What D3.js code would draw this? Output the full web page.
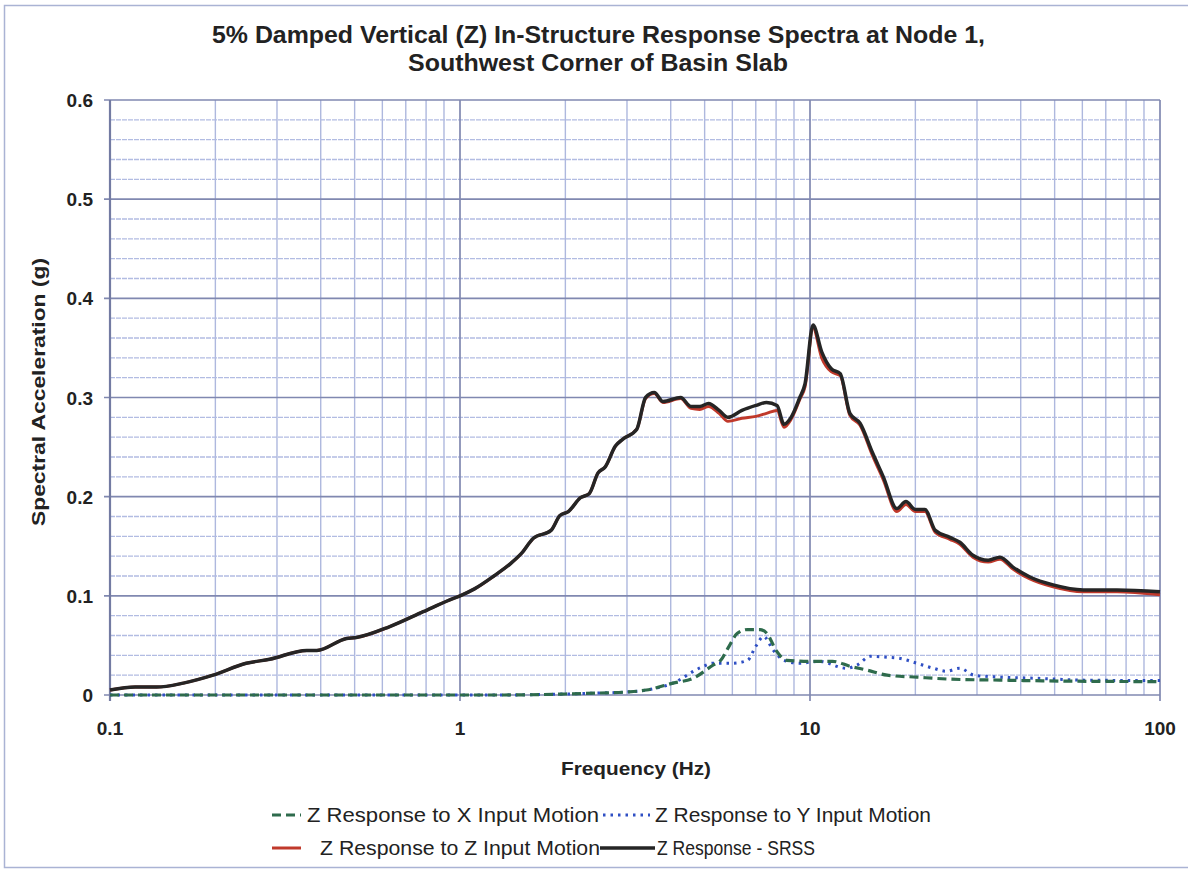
<!DOCTYPE html>
<html>
<head>
<meta charset="utf-8">
<script src="https://cdn.jsdelivr.net/npm/d3@7"></script>
<style>
  body { margin: 0; background: #fff; }
  svg text { font-family: "Liberation Sans", Arial, sans-serif; fill: #222; }
</style>
</head>
<body>
<svg id="chart" width="1188" height="870"></svg>
<script>
// frequencies (Hz) and spectral accelerations (g)
const freqSRSS = [0.1, 0.118, 0.136, 0.162, 0.197, 0.245, 0.286, 0.365, 0.39, 0.474, 0.506, 0.63, 0.785, 0.935, 1.0,
  1.1, 1.25, 1.4, 1.5, 1.62, 1.82, 1.93, 2.04, 2.21, 2.34, 2.48, 2.6, 2.78, 2.92, 3.2, 3.39, 3.59, 3.8, 4.27, 4.57,
  4.84, 5.13, 5.5, 5.83, 6.39, 7.01, 7.51, 8.05, 8.43, 8.83, 9.35, 9.68, 10.2, 10.8, 11.5, 12.2, 13.0, 13.9, 15.1, 16.2,
  17.7, 18.8, 20.0, 21.3, 22.8, 25.1, 26.8, 29.2, 32.3, 34.9, 38.0, 42.5, 49.5, 60.3, 75.4, 100];
const srss = [0.005, 0.008, 0.008, 0.012, 0.020, 0.032, 0.036, 0.045, 0.045, 0.057, 0.058, 0.069, 0.084, 0.096, 0.100,
  0.107, 0.120, 0.133, 0.143, 0.158, 0.166, 0.181, 0.185, 0.199, 0.203, 0.224, 0.230, 0.251, 0.258, 0.268, 0.300, 0.305, 0.296, 0.300, 0.291,
  0.291, 0.294, 0.287, 0.280, 0.287, 0.292, 0.295, 0.292, 0.273, 0.280, 0.300, 0.314, 0.373, 0.346, 0.329, 0.324, 0.284, 0.274, 0.244, 0.220,
  0.188, 0.195, 0.187, 0.187, 0.166, 0.159, 0.154, 0.141, 0.136, 0.139, 0.129, 0.119, 0.111, 0.106, 0.106, 0.104];
const zIn = [0.005, 0.008, 0.008, 0.012, 0.020, 0.032, 0.036, 0.045, 0.045, 0.057, 0.058, 0.069, 0.084, 0.096, 0.100,
  0.107, 0.120, 0.133, 0.143, 0.158, 0.166, 0.181, 0.185, 0.199, 0.203, 0.224, 0.230, 0.251, 0.258, 0.268, 0.299, 0.304, 0.295, 0.299, 0.289,
  0.288, 0.291, 0.284, 0.276, 0.279, 0.281, 0.284, 0.287, 0.270, 0.278, 0.298, 0.311, 0.370, 0.340, 0.326, 0.322, 0.282, 0.272, 0.241, 0.217,
  0.185, 0.192, 0.185, 0.185, 0.164, 0.157, 0.152, 0.139, 0.134, 0.137, 0.127, 0.117, 0.109, 0.104, 0.104, 0.101];

const freqX = [0.1, 0.3, 0.6, 1.0, 1.3, 2.0, 2.5, 2.99, 3.41, 4.06, 4.64, 5.28, 5.56, 5.87, 6.19,
  6.63, 7.2, 7.54, 8.0, 8.59, 10.0, 11.6, 13.0, 14.6, 16.6, 20.2, 25.1, 34.9, 54, 100];
const xIn = [0, 0, 0, 0, 0, 0.001, 0.002, 0.003, 0.005, 0.012, 0.017, 0.030, 0.035, 0.049, 0.062,
  0.066, 0.066, 0.062, 0.045, 0.035, 0.034, 0.034, 0.029, 0.025, 0.020, 0.018, 0.016, 0.015, 0.014, 0.0135];

const freqY = [0.1, 0.3, 0.6, 1.0, 1.3, 2.0, 2.5, 3.0, 3.41, 4.06, 4.83, 5.28, 6.0, 6.63, 7.0, 7.37, 7.86,
  8.42, 9.35, 10.6, 12.7, 13.6, 14.9, 16.6, 18.0, 20.2, 22.5, 24.5, 26.8, 29.4, 34.9, 43.4, 60.5, 100];
const yIn = [0, 0, 0, 0, 0, 0.001, 0.002, 0.003, 0.005, 0.012, 0.027, 0.032, 0.032, 0.035, 0.049, 0.059, 0.045,
  0.035, 0.032, 0.034, 0.027, 0.030, 0.039, 0.038, 0.037, 0.032, 0.027, 0.024, 0.027, 0.020, 0.018, 0.017, 0.015, 0.0145];

const xTicks = [0.1, 1, 10, 100];
const yTicks = [0, 0.1, 0.2, 0.3, 0.4, 0.5, 0.6];

const titleLines = ["5% Damped Vertical (Z) In-Structure Response Spectra at Node 1,", "Southwest Corner of Basin Slab"];
const legendNames = ["Z Response to X Input Motion", "Z Response to Y Input Motion",
  "Z Response to Z Input Motion", "Z Response - SRSS"];

const svg = d3.select("#chart");
const margin = {left: 110, top: 100, right: 28, bottom: 175};
const W = 1188, H = 870;

// outer chart frame
svg.append("rect").attr("x", 4.5).attr("y", 5.5).attr("width", 1200).attr("height", 862)
  .attr("fill", "none").attr("stroke", "#aab3d4").attr("stroke-width", 1.5);

const x = d3.scaleLog().domain([0.1, 100]).range([margin.left, W - margin.right]);
const y = d3.scaleLinear().domain([0, 0.6]).range([H - margin.bottom, margin.top]);

const g = svg.append("g");

// minor grid
const minorX = [];
[0.1, 1, 10].forEach(d => { for (let k = 2; k <= 9; k++) minorX.push(d * k); });
g.selectAll(".vminor").data(minorX).enter().append("line")
  .attr("x1", d => x(d)).attr("x2", d => x(d))
  .attr("y1", y(0.6)).attr("y2", y(0))
  .attr("stroke", "#aeb8de").attr("stroke-width", 1.4);
const minorY = d3.range(0.02, 0.6, 0.02).filter(v => Math.abs(v * 10 - Math.round(v * 10)) > 1e-6);
g.selectAll(".hminor").data(minorY).enter().append("line")
  .attr("x1", x(0.1)).attr("x2", x(100))
  .attr("y1", d => y(d)).attr("y2", d => y(d))
  .attr("stroke", "#b2bce2").attr("stroke-width", 1.4).attr("stroke-dasharray", "5,1");

// major grid
g.selectAll(".vmajor").data(xTicks).enter().append("line")
  .attr("x1", d => x(d)).attr("x2", d => x(d))
  .attr("y1", y(0.6)).attr("y2", y(0) + 6)
  .attr("stroke", "#8088b0").attr("stroke-width", 1.7);
g.selectAll(".hmajor").data(yTicks).enter().append("line")
  .attr("x1", x(0.1) - 6).attr("x2", x(100))
  .attr("y1", d => y(d)).attr("y2", d => y(d))
  .attr("stroke", "#8088b0").attr("stroke-width", 1.7);

// axes lines
g.append("line").attr("x1", x(0.1)).attr("x2", x(0.1)).attr("y1", y(0.6)).attr("y2", y(0) + 6)
  .attr("stroke", "#737ba2").attr("stroke-width", 2.2);

// tick labels
g.selectAll(".xlab").data(xTicks).enter().append("text")
  .attr("x", d => x(d)).attr("y", y(0) + 40)
  .attr("text-anchor", "middle").attr("font-size", 19).attr("font-weight", "bold")
  .text(d => d3.format("~g")(d));
g.selectAll(".ylab").data(yTicks).enter().append("text")
  .attr("x", x(0.1) - 17).attr("y", d => y(d) + 7)
  .attr("text-anchor", "end").attr("font-size", 19).attr("font-weight", "bold")
  .text(d => d === 0 ? "0" : d3.format(".1f")(d));

// axis titles
svg.append("text").attr("x", 636).attr("y", 775).attr("text-anchor", "middle")
  .attr("font-size", 19).attr("font-weight", "bold")
  .attr("textLength", 150).attr("lengthAdjust", "spacingAndGlyphs").text("Frequency (Hz)");
svg.append("text").attr("transform", "translate(45,392) rotate(-90)").attr("text-anchor", "middle")
  .attr("font-size", 19).attr("font-weight", "bold")
  .attr("textLength", 268).attr("lengthAdjust", "spacingAndGlyphs").text("Spectral Acceleration (g)");

// title
svg.append("text").attr("x", 212).attr("y", 43).attr("font-size", 23).attr("font-weight", "bold")
  .attr("textLength", 773).attr("lengthAdjust", "spacingAndGlyphs").text(titleLines[0]);
svg.append("text").attr("x", 408).attr("y", 71).attr("font-size", 23).attr("font-weight", "bold")
  .attr("textLength", 380).attr("lengthAdjust", "spacingAndGlyphs").text(titleLines[1]);

// series
const series = [
  {f: freqSRSS, v: zIn, color: "#c0392b", width: 3, dash: null, name: legendNames[2]},
  {f: freqSRSS, v: srss, color: "#252525", width: 3.5, dash: null, name: legendNames[3]},
  {f: freqY, v: yIn, color: "#2f4fc4", width: 3, dash: "2.5,5", name: legendNames[1]},
  {f: freqX, v: xIn, color: "#2e6b4c", width: 3.2, dash: "9,5", name: legendNames[0]}
];
const line = d3.line().x(d => x(d[0])).y(d => y(d[1])).curve(d3.curveMonotoneX);
series.forEach(s => {
  svg.append("path")
    .attr("d", line(s.f.map((f, i) => [f, s.v[i]])))
    .attr("fill", "none").attr("stroke", s.color).attr("stroke-width", s.width)
    .attr("stroke-dasharray", s.dash).attr("stroke-linejoin", "round");
});

// legend
const legendItems = [
  {s: series[3], x0: 272, x1: 301, tx: 307, tl: 292, y: 815},
  {s: series[2], x0: 603, x1: 650, tx: 655, tl: 276, y: 815},
  {s: series[0], x0: 272, x1: 301, tx: 320, tl: 280, y: 848},
  {s: series[1], x0: 600, x1: 655, tx: 657, tl: 158, y: 848}
];
legendItems.forEach(it => {
  svg.append("line").attr("x1", it.x0).attr("x2", it.x1).attr("y1", it.y).attr("y2", it.y)
    .attr("stroke", it.s.color).attr("stroke-width", it.s.width).attr("stroke-dasharray", it.s.dash);
  svg.append("text").attr("x", it.tx).attr("y", it.y + 7).attr("font-size", 20)
    .attr("textLength", it.tl).attr("lengthAdjust", "spacingAndGlyphs").text(it.s.name);
});
</script>
</body>
</html>
